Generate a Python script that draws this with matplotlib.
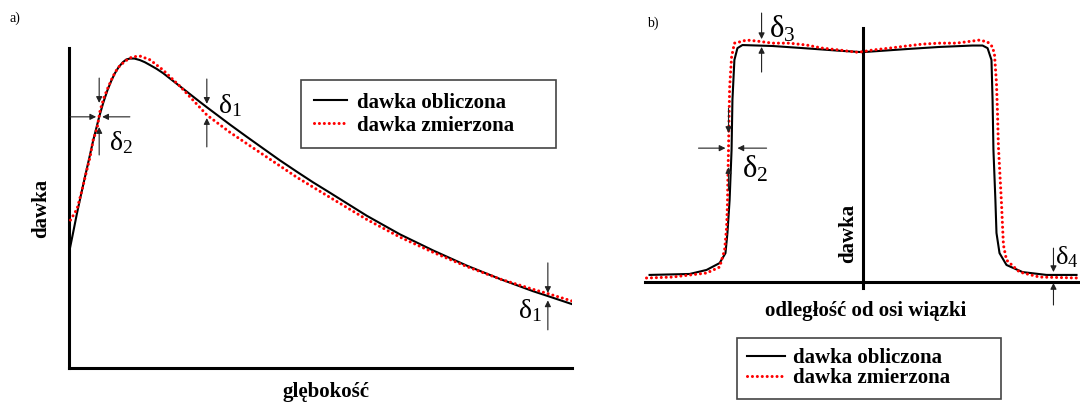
import matplotlib
matplotlib.use("Agg")
import matplotlib.pyplot as plt

plt.rcParams['font.family'] = ['Liberation Serif', 'DejaVu Serif']

# a) depth dose: calculated (line) and measured (dots)
depth_calc = [0, 0.8, 1.6, 2.4, 3.2, 4.0, 4.8, 6.0, 6.8, 7.6, 8.4, 9.1, 9.9, 10.7, 11.4, 12.1,
              13.0, 14.1, 15.1, 16.1, 17.4, 18.7, 22.1, 25.4, 27.4, 32.0, 35.4, 38.6, 41.9, 45.3, 48.5,
              51.9, 59.2, 65.8, 72.4, 79.1, 85.7, 92.2, 95.2, 100]
dose_calc = [37.1, 43.5, 50.0, 56.0, 61.8, 67.5, 73.3, 81.0, 85.5, 89.4, 92.6, 95.0, 97.1, 98.6, 99.5, 99.8,
             99.8, 99.3, 98.6, 97.7, 96.5, 95.1, 90.8, 86.6, 84.1, 78.5, 74.5, 70.8, 67.0, 63.3, 59.9,
             56.5, 49.1, 43.1, 37.9, 33.0, 28.7, 24.8, 23.2, 20.6]
depth_meas = [0.3, 1.6, 2.6, 3.4, 4.2, 4.8, 5.6, 6.2, 7.0, 7.8, 8.7, 9.7, 11.1, 12.5, 14.1, 16.1,
              18.7, 22.1, 25.4, 27.4, 32.0, 38.6, 45.3, 51.9, 59.2, 65.8, 72.4, 79.1, 85.7, 92.2, 95.2, 100]
dose_meas = [47.7, 51.3, 57.4, 62.9, 68.1, 73.5, 77.4, 83.2, 87.4, 90.6, 93.9, 96.8, 98.9, 100.3, 100.6, 99.4,
             96.1, 90.8, 85.1, 81.6, 76.0, 68.8, 61.5, 55.0, 47.9, 42.2, 37.3, 32.7, 28.7, 25.4, 24.0, 21.6]

# b) beam profile
pos_calc = [-97.9, -79.5, -71.7, -65.7, -63.0, -62.1, -61.1, -60.2, -59.8, -58.9, -57.5, -55.2,
            -41.4, -25.7, -10.6, 0, 4.6, 20.2, 35.4, 50.6, 55.2,
            57.5, 59.3, 59.8, 60.2, 61.1, 61.6, 63.0, 66.2, 73.6, 84.6, 98.4]
prof_calc = [3.0, 3.4, 5.1, 8.0, 12.2, 20.7, 34.6, 55.7, 76.8, 93.7, 98.7, 100.0,
             99.6, 98.6, 97.6, 97.0, 97.3, 98.3, 99.2, 99.8, 99.8,
             98.7, 93.7, 76.8, 55.7, 34.6, 20.7, 12.2, 7.2, 4.2, 3.0, 3.0]
pos_meas = [-99.3, -87.4, -71.7, -65.7, -63.4, -62.5, -62.1, -61.9, -61.6, -61.1, -60.2, -58.9,
            -56.6, -53.3, -48.7, -41.4, -33.6, -25.7, -18.4, -10.6, -2.8, 0, 4.6, 12.4, 20.2,
            27.6, 35.4, 43.2, 50.6, 53.8, 57.5, 59.8, 60.7, 61.6, 62.1, 62.5, 63.4, 63.9, 64.4,
            64.8, 66.2, 72.2, 81.4, 99.8]
prof_meas = [1.7, 2.1, 3.8, 6.3, 13.5, 22.8, 32.5, 43.0, 56.5, 81.9, 94.9, 100.8,
             101.3, 102.1, 101.7, 100.8, 100.8, 100.0, 98.7, 97.9, 97.0, 97.2, 97.9, 98.7, 99.6,
             100.4, 100.8, 100.8, 101.7, 102.1, 101.3, 99.2, 95.8, 84.0, 70.5, 57.0, 41.8, 33.3, 23.2,
             15.6, 9.3, 4.2, 2.1, 1.7]

labels = ["dawka obliczona", "dawka zmierzona"]

W, H = 1080, 403
fig = plt.figure(figsize=(W / 100, H / 100), dpi=100)

dot_style = dict(color='red', lw=2.2, linestyle=(0, (0.01, 1.6)), dash_capstyle='round')
bold = dict(fontsize=15, fontweight='bold')


def arrow(ax, tail, head):
    ax.annotate('', xy=head, xytext=tail, annotation_clip=False,
                arrowprops=dict(arrowstyle='-|>', color='#222222', lw=0.8,
                                mutation_scale=9, shrinkA=0, shrinkB=0))


def delta(ax, x, y, idx, size):
    ax.text(x, y, r'$\mathregular{\delta_%d}$' % idx, fontsize=size, ha='center', va='center')


# ---- panel a ----
ax1 = fig.add_axes([69 / W, 35 / H, 503 / W, 320 / H])
ax1.plot(depth_calc, dose_calc, color='black', lw=1.5, label=labels[0], zorder=2)
ax1.plot(depth_meas, dose_meas, label=labels[1], zorder=3, **dot_style)
ax1.set_xlim(0, 100)
ax1.set_ylim(0, 103.2)
ax1.set_xticks([])
ax1.set_yticks([])
for s in ['top', 'right']:
    ax1.spines[s].set_visible(False)
for s in ['left', 'bottom']:
    ax1.spines[s].set_linewidth(2.2)

ax1.text(0.511, -0.09, "glębokość", transform=ax1.transAxes, ha='center', va='baseline', **bold)
ax1.text(-0.056, 0.5, "dawka", transform=ax1.transAxes, rotation=90, ha='center', va='center', **bold)

# delta 2 at the build-up
arrow(ax1, (0.2, 81.0), (5.4, 81.0))
arrow(ax1, (12.1, 81.0), (6.6, 81.0))
arrow(ax1, (6.0, 93.5), (6.0, 85.5))
arrow(ax1, (6.0, 68.7), (6.0, 77.7))
delta(ax1, 10.4, 72.6, 2, 20)
# delta 1 behind the maximum
arrow(ax1, (27.4, 93.2), (27.4, 85.2))
arrow(ax1, (27.4, 71.3), (27.4, 80.6))
delta(ax1, 32.0, 84.6, 1, 20)
# delta 1 at depth
arrow(ax1, (95.2, 33.9), (95.2, 24.2))
arrow(ax1, (95.2, 12.3), (95.2, 21.8))
delta(ax1, 91.6, 18.4, 1, 20)

leg1 = ax1.legend(loc='upper left', bbox_to_anchor=(301 / W, 1 - 152 / H, 255 / W, 72 / H),
                  bbox_transform=fig.transFigure, mode='expand', borderaxespad=0,
                  prop=dict(size=15, weight='bold'), handlelength=1.6, handletextpad=0.5,
                  borderpad=0.6, labelspacing=0.15, fancybox=False, framealpha=1,
                  edgecolor='#444444')
leg1.get_frame().set_linewidth(1.2)

fig.text(15 / W, 1 - 18 / H, "a)", fontsize=10, ha='center', va='center')

# ---- panel b ----
ax2 = fig.add_axes([645 / W, 93 / H, 435 / W, 305 / H])
ax2.plot(pos_calc, prof_calc, color='black', lw=1.5, label=labels[0], zorder=2)
ax2.plot(pos_meas, prof_meas, label=labels[1], zorder=3, **dot_style)
ax2.set_xlim(-100, 100)
ax2.set_ylim(-11.8, 116.9)
ax2.set_xticks([])
ax2.set_yticks([])
for s in ['top', 'right']:
    ax2.spines[s].set_visible(False)
ax2.spines['left'].set_position(('data', 0))
ax2.spines['left'].set_bounds(-2.5, 107.2)
ax2.spines['bottom'].set_position(('data', 0))
for s in ['left', 'bottom']:
    ax2.spines[s].set_linewidth(2.2)

ax2.text(1.4, -14.3, "odległość od osi wiązki", ha='center', va='baseline', **bold)
ax2.text(-6.4, 20.3, "dawka", rotation=90, ha='center', va='center', **bold)

# delta 3 on the plateau
arrow(ax2, (-46.4, 113.5), (-46.4, 102.5))
arrow(ax2, (-46.4, 88.6), (-46.4, 99.2))
delta(ax2, -36.8, 106.5, 3, 22)
# delta 2 on the penumbra
arrow(ax2, (-75.4, 56.5), (-63.0, 56.5))
arrow(ax2, (-44.1, 56.5), (-57.5, 56.5))
arrow(ax2, (-61.6, 73.4), (-61.6, 62.9))
arrow(ax2, (-61.6, 38.8), (-61.6, 48.5))
delta(ax2, -49.4, 47.8, 2, 22)
# delta 4 outside the field (kept inside the figure edge)
arrow(ax2, (87.8, 14.3), (87.8, 4.2))
arrow(ax2, (87.8, -9.7), (87.8, -0.4))
delta(ax2, 94.0, 10.5, 4, 19)

leg2 = ax2.legend(loc='upper left', bbox_to_anchor=(737 / W, 1 - 402 / H, 264 / W, 64 / H),
                  bbox_transform=fig.transFigure, mode='expand', borderaxespad=0,
                  prop=dict(size=15, weight='bold'), handlelength=1.8, handletextpad=0.4,
                  borderpad=0.5, labelspacing=0.0, fancybox=False, framealpha=1,
                  edgecolor='#444444')
leg2.get_frame().set_linewidth(1.2)

fig.text(653 / W, 1 - 23 / H, "b)", fontsize=10, ha='center', va='center')

fig.savefig("out.png", dpi=100, facecolor='white')
